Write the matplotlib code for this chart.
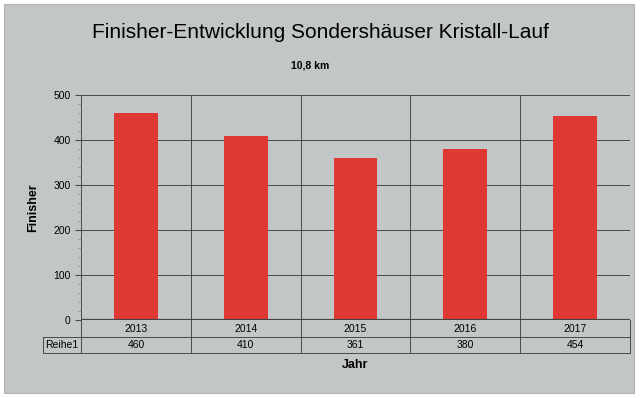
import matplotlib
matplotlib.use("Agg")
import matplotlib.pyplot as plt
from matplotlib.patches import Rectangle
from matplotlib.ticker import MultipleLocator

plt.rcParams["font.family"] = ["Liberation Sans", "DejaVu Sans"]

years = ["2013", "2014", "2015", "2016", "2017"]
finisher = [460, 410, 361, 380, 454]
series_name = "Reihe1"

bg = "#c3c6c6"
grid_col = "#4a4a4a"
bar_col = "#e03832"

fig = plt.figure(figsize=(6.4, 3.98), dpi=100)
fig.patch.set_facecolor("white")
fig.patches.append(Rectangle((4 / 640, 1 - 393 / 398), 630 / 640, 389 / 398,
                             transform=fig.transFigure, facecolor=bg,
                             edgecolor="#b0b3b3", lw=0.8, zorder=-10))

ax = fig.add_axes([81 / 640, 1 - 320 / 398, 549 / 640, 225 / 398])
ax.set_facecolor(bg)
x = list(range(len(years)))
ax.bar(x, finisher, width=0.4, color=bar_col, zorder=3)
ax.set_xlim(-0.5, len(years) - 0.5)
ax.set_ylim(0, 500)
ax.yaxis.set_major_locator(MultipleLocator(100))
ax.yaxis.set_minor_locator(MultipleLocator(20))
ax.tick_params(axis="y", which="major", length=4, labelsize=7.5, color=grid_col)
ax.tick_params(axis="y", which="minor", length=2, color="#888888")
ax.set_xticks([])
ax.grid(axis="y", which="major", color=grid_col, lw=0.7, zorder=1)
for b in range(len(years) + 1):
    ax.axvline(b - 0.5, color=grid_col, lw=0.7, zorder=1)
for s in ax.spines.values():
    s.set_visible(False)
ax.axhline(0, color="#444444", lw=1.6, zorder=4)

# data table below the plot
tr = ax.get_xaxis_transform()
row_h = 17 / 225
y1 = -row_h
y2 = -2 * row_h + 0.005
left = -0.5 - (81 - 43) / 110
kw = dict(transform=tr, clip_on=False, color=grid_col, lw=0.7)
ax.plot([-0.5, len(years) - 0.5], [y1, y1], **kw)
ax.plot([left, len(years) - 0.5], [y2, y2], **kw)
ax.plot([left, -0.5], [y1, y1], **kw)
ax.plot([left, left], [y1, y2], **kw)
for b in range(len(years) + 1):
    ax.plot([b - 0.5, b - 0.5], [0, y2], **kw)
for i, (yr, v) in enumerate(zip(years, finisher)):
    ax.text(i, y1 / 2, yr, transform=tr, ha="center", va="center", fontsize=7.5)
    ax.text(i, (y1 + y2) / 2, str(v), transform=tr, ha="center", va="center", fontsize=7.5)
ax.text((left - 0.5) / 2, (y1 + y2) / 2, series_name, transform=tr,
        ha="center", va="center", fontsize=7.5)

fig.text(0.5, 1 - 32 / 398, "Finisher-Entwicklung Sondershäuser Kristall-Lauf",
         ha="center", va="center", fontsize=15)
fig.text(310 / 640, 1 - 65 / 398, "10,8 km", ha="center", va="center",
         fontsize=7.5, fontweight="bold")
fig.text(33 / 640, 1 - 208 / 398, "Finisher", ha="center", va="center",
         rotation=90, fontsize=9, fontweight="bold")
ax.text(0.5, -(365 - 320) / 225, "Jahr", transform=ax.transAxes,
        ha="center", va="center", fontsize=9, fontweight="bold")

fig.savefig("out.png", dpi=100, facecolor=fig.get_facecolor())
